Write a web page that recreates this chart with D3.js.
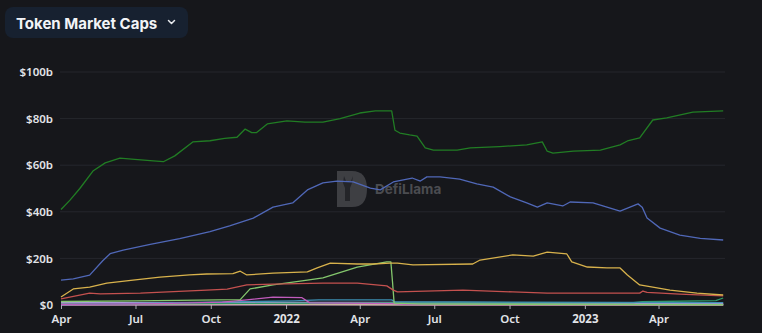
<!DOCTYPE html>
<html>
<head>
<meta charset="utf-8">
<script src="https://cdn.jsdelivr.net/npm/d3@7"></script>
<style>
  html, body { margin: 0; padding: 0; background: #16171b; }
  svg { display: block; }
</style>
</head>
<body>
<svg id="chart" width="762" height="333"></svg>
<script>
// Stablecoin market caps, in billions of USD
const tether = [
  ["2021-04-01",41],["2021-04-12",45],["2021-04-24",50],["2021-05-10",57.5],["2021-05-25",61],
  ["2021-06-12",63],["2021-06-30",62.5],["2021-07-19",62],["2021-08-04",61.5],["2021-08-18",64],
  ["2021-09-09",70],["2021-09-30",70.5],["2021-10-18",71.5],["2021-11-02",72],["2021-11-12",75.5],
  ["2021-11-20",74],["2021-11-26",74],["2021-12-09",77.7],["2022-01-02",79],["2022-01-24",78.5],
  ["2022-02-15",78.5],["2022-03-08",80],["2022-04-01",82.4],["2022-04-20",83.3],["2022-05-10",83.3],
  ["2022-05-14",75],["2022-05-20",73.8],["2022-06-01",73],["2022-06-10",72.5],["2022-06-20",67.4],
  ["2022-06-30",66.5],["2022-07-29",66.5],["2022-08-14",67.4],["2022-09-19",68],["2022-10-22",68.7],
  ["2022-11-10",70],["2022-11-16",66],["2022-11-23",65.2],["2022-12-18",66],["2023-01-20",66.5],
  ["2023-02-13",68.7],["2023-02-22",70.4],["2023-03-09",71.7],["2023-03-25",79.4],["2023-04-11",80.3],
  ["2023-05-13",82.8],["2023-06-19",83.3]
];
const usdCoin = [
  ["2021-04-01",10.7],["2021-04-16",11.2],["2021-05-06",12.8],["2021-05-22",19],["2021-05-31",22],
  ["2021-06-16",23.6],["2021-07-19",26],["2021-08-24",28.5],["2021-09-30",31.5],["2021-10-24",34],
  ["2021-11-22",37.3],["2021-12-16",42],["2022-01-09",43.8],["2022-01-27",49.4],["2022-02-15",52.4],
  ["2022-03-04",53.2],["2022-03-24",52.8],["2022-04-14",50.2],["2022-04-26",49.4],["2022-05-12",52.8],
  ["2022-06-04",54.5],["2022-06-14",53.2],["2022-06-22",55],["2022-07-08",55],["2022-08-01",54],
  ["2022-08-22",52],["2022-09-11",50.6],["2022-10-02",46.4],["2022-10-22",43.8],["2022-11-04",42],
  ["2022-11-16",43.8],["2022-12-05",42.5],["2022-12-14",44.2],["2023-01-11",43.8],["2023-02-13",40.3],
  ["2023-03-07",43.4],["2023-03-12",42],["2023-03-18",37.3],["2023-04-03",33],["2023-04-27",30],
  ["2023-05-22",28.6],["2023-06-19",27.9]
];
const binanceUsd = [
  ["2021-04-01",3.4],["2021-04-16",6.9],["2021-05-06",7.7],["2021-05-27",9.4],["2021-06-28",10.7],
  ["2021-07-31",12],["2021-09-05",12.9],["2021-09-26",13.3],["2021-10-28",13.5],["2021-11-06",14.5],
  ["2021-11-14",12.9],["2021-12-16",13.7],["2022-01-27",14.2],["2022-02-08",15.9],["2022-02-24",18],
  ["2022-03-29",17.6],["2022-04-17",17.6],["2022-05-08",18],["2022-05-17",18],["2022-06-05",17.2],
  ["2022-08-17",17.6],["2022-08-26",19.3],["2022-10-05",21.5],["2022-10-30",21],["2022-11-16",22.7],
  ["2022-12-10",21.9],["2022-12-16",18.5],["2023-01-04",16.3],["2023-01-28",15.9],["2023-02-13",15.9],
  ["2023-02-22",12.9],["2023-03-09",8.6],["2023-03-25",7.7],["2023-04-15",6.4],["2023-05-18",5.1],
  ["2023-06-19",4.3]
];
const dai = [
  ["2021-04-01",2.6],["2021-05-06",5.1],["2021-05-19",4.8],["2021-07-07",5.1],["2021-09-26",6.4],
  ["2021-10-21",6.8],["2021-11-14",8.6],["2021-12-16",9],["2022-02-15",9.4],["2022-03-29",9.4],
  ["2022-05-04",8.2],["2022-05-12",6.4],["2022-05-17",5.6],["2022-08-05",6.4],["2022-10-05",5.6],
  ["2022-11-16",5.1],["2023-03-09",5.1],["2023-03-13",6],["2023-03-18",5.4],["2023-04-27",4.7],
  ["2023-06-19",3.9]
];
const terraUsd = [
  ["2021-04-01",1.5],["2021-07-01",1.8],["2021-11-06",2.3],["2021-11-18",6.9],["2021-12-16",8.6],
  ["2022-01-27",10.7],["2022-02-15",11.6],["2022-03-29",16.3],["2022-05-04",18.5],["2022-05-09",18.5],
  ["2022-05-11",10],["2022-05-13",0.8],["2022-06-15",0.4],["2023-06-19",0.1]
];
const magicUsd = [
  ["2021-04-01",0.3],["2021-08-01",0.6],["2021-10-15",1.2],["2021-11-14",2.2],["2021-12-16",3.4],
  ["2022-01-20",3.2],["2022-01-30",0.9],["2022-05-10",0.6],["2022-06-01",0.2],["2023-06-19",0.1]
];
const fraxUsd = [
  ["2021-04-01",0.2],["2021-09-01",1],["2022-01-10",1.8],["2022-02-10",2.2],["2022-05-10",2.2],
  ["2022-05-14",1.3],["2022-08-01",1.3],["2023-06-19",1.0]
];
const trueUsd = [
  ["2021-04-01",0.4],["2022-06-01",0.9],["2023-03-01",1.0],["2023-03-12",1.4],["2023-06-10",1.9],
  ["2023-06-19",3.0]
];
const payUsd = [
  ["2021-04-01",0.9],["2022-05-01",1.0],["2023-06-19",0.6]
];
const husd = [
  ["2021-04-01",0.5],["2021-12-01",0.5],["2022-06-01",0.2],["2023-06-19",0.1]
];
const geminiUsd = [
  ["2021-04-01",0.2],["2022-05-15",0.3],["2023-06-19",0.3]
];

const seriesList = [
  { name: "USDT", data: tether,     color: "#217d24", width: 1.3 },
  { name: "USDC", data: usdCoin,    color: "#5068b8", width: 1.3 },
  { name: "BUSD", data: binanceUsd, color: "#d8b24c", width: 1.3 },
  { name: "DAI",  data: dai,        color: "#c4514f", width: 1.3 },
  { name: "UST",  data: terraUsd,   color: "#84c76d", width: 1.3 },
  { name: "MIM",  data: magicUsd,   color: "#c25cbd", width: 1.3 },
  { name: "FRAX", data: fraxUsd,    color: "#3d8fb3", width: 1.3 },
  { name: "TUSD", data: trueUsd,    color: "#2f9a68", width: 1.3 },
  { name: "USDP", data: payUsd,     color: "#a99bd8", width: 2 },
  { name: "HUSD", data: husd,       color: "#c9b89c", width: 2 },
  { name: "GUSD", data: geminiUsd,  color: "#d6a6d0", width: 2.2 }
];

const yTicks = [0, 20, 40, 60, 80, 100];
const xTickDates = ["2021-04-01","2021-07-01","2021-10-01","2022-01-01","2022-04-01",
                    "2022-07-01","2022-10-01","2023-01-01","2023-04-01"];

const parse = d3.utcParse("%Y-%m-%d");
const svg = d3.select("#chart");

// Header pill with the chart title
const header = svg.append("g");
header.append("rect")
  .attr("x", 5).attr("y", 7).attr("width", 183).attr("height", 31).attr("rx", 8)
  .attr("fill", "#172130");
header.append("text")
  .attr("x", 16).attr("y", 28.5)
  .attr("fill", "#f2f4f7")
  .attr("font-family", "Inter, 'Noto Sans', sans-serif")
  .attr("font-weight", 700).attr("font-size", 15)
  .text("Token Market Caps");
header.append("path")
  .attr("d", "M168.5,20.5 L171.5,23.5 L174.5,20.5")
  .attr("fill", "none").attr("stroke", "#e8eaee").attr("stroke-width", 1.5)
  .attr("stroke-linecap", "round").attr("stroke-linejoin", "round");

const x = d3.scaleUtc()
  .domain([parse("2021-04-01"), parse("2023-06-20")])
  .range([61, 724]);
const y = d3.scaleLinear().domain([0, 100]).range([305, 72]);

// Horizontal grid
svg.append("g")
  .selectAll("line")
  .data(yTicks.filter(v => v > 0))
  .join("line")
  .attr("x1", 60).attr("x2", 725)
  .attr("y1", d => y(d)).attr("y2", d => y(d))
  .attr("stroke", "#25272d").attr("stroke-width", 1);

// Y axis labels
const yAxis = d3.axisLeft(y).tickValues(yTicks).tickSize(0).tickPadding(0)
  .tickFormat(v => v === 0 ? "$0" : `$${v}b`);
svg.append("g")
  .attr("transform", "translate(53,0)")
  .call(yAxis)
  .call(g => g.select(".domain").remove())
  .call(g => g.selectAll("text")
    .attr("fill", "#e2e4e8")
    .attr("font-family", "'Noto Sans', 'Open Sans', sans-serif")
    .attr("font-weight", 600)
    .attr("font-size", 11.5));

// X axis
const xAxis = d3.axisBottom(x)
  .tickValues(xTickDates.map(parse))
  .tickSize(4).tickPadding(6)
  .tickFormat(d => d.getUTCMonth() === 0 ? d3.utcFormat("%Y")(d) : d3.utcFormat("%b")(d));
svg.append("g")
  .attr("transform", "translate(0,305)")
  .call(xAxis)
  .call(g => g.select(".domain").remove())
  .call(g => g.selectAll("line").attr("stroke", "#a8aab0"))
  .call(g => g.selectAll("text")
    .attr("fill", "#e2e4e8")
    .attr("font-family", "'Noto Sans', 'Open Sans', sans-serif")
    .attr("font-size", 11.5)
    .attr("font-weight", d => d.getUTCMonth() === 0 ? 700 : 600));

// Watermark
const wm = svg.append("g").attr("opacity", 0.4);
wm.append("path")
  .attr("d", "M337,171 L352,171 Q367,171 367,189 Q367,207 352,207 L337,207 Z")
  .attr("fill", "#7a7b80");
wm.append("path")
  .attr("d", "M344,176 L346,181 L351,181 L353,176 L352,183 L350,188 L350,201 L345,201 L345,188 L343,183 Z")
  .attr("fill", "#3a3b40");
wm.append("text")
  .attr("x", 375).attr("y", 194)
  .attr("fill", "#9a9ba0")
  .attr("font-family", "Inter, 'Noto Sans', sans-serif")
  .attr("font-weight", 700).attr("font-size", 13.5)
  .text("DefiLlama");

// Series lines, drawn so larger series sit on top of the small ones
const line = d3.line()
  .x(d => x(parse(d[0])))
  .y(d => y(d[1]));

svg.append("g")
  .selectAll("path")
  .data(seriesList.slice().reverse())
  .join("path")
  .attr("d", s => line(s.data))
  .attr("fill", "none")
  .attr("stroke", s => s.color)
  .attr("stroke-width", s => s.width)
  .attr("stroke-linejoin", "round");
</script>
</body>
</html>
